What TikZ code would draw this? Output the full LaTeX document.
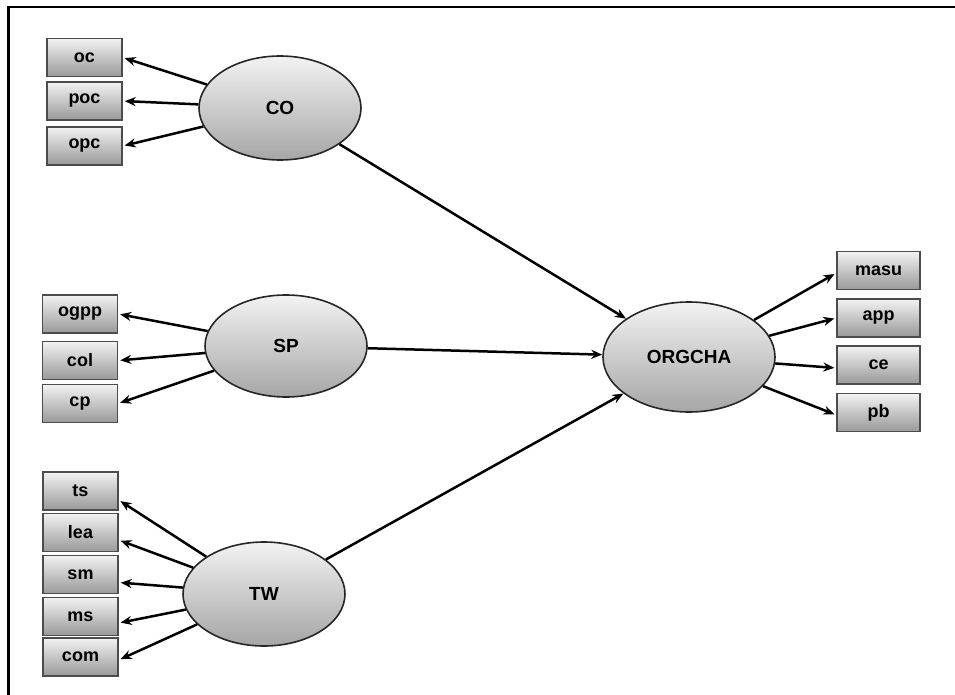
\documentclass[tikz,border=0pt]{standalone}
\usepackage{fontspec}
\setmainfont{Liberation Sans}
\usetikzlibrary{shapes.geometric,arrows.meta}
\tikzset{
  latent/.style={ellipse, draw=black!85, line width=1.6pt, top color=black!5, bottom color=black!35,
    inner sep=0pt, font=\bfseries\fontsize{19}{21}\selectfont},
  indic/.style={rectangle, draw=black!70, line width=1.4pt, top color=black!5, bottom color=black!40,
    minimum width=75pt, minimum height=38pt, inner sep=0pt, font=\bfseries\fontsize{18}{20}\selectfont},
  path/.style={line width=2.5pt, black, -{Stealth[length=11pt,width=9pt]}, shorten >=2pt},
  frame/.style={line width=2.4pt, black}
}
\begin{document}
\begin{tikzpicture}[x=1pt,y=-1pt]
\useasboundingbox (0,0) rectangle (955,695);
% frame
\coordinate (fl) at (8.5,695);
\coordinate (fc) at (8.5,7);
\coordinate (fr) at (955,7);
\draw[frame] (fl) -- (fc) -- (fr);

% latent variables
\node[latent, minimum width=162pt, minimum height=104pt] (CO) at (280,108) {CO};
\node[latent, minimum width=162pt, minimum height=102pt] (SP) at (286,346) {SP};
\node[latent, minimum width=162pt, minimum height=104pt] (TW) at (264,594) {TW};
\node[latent, minimum width=172pt, minimum height=110pt] (ORG) at (689,357) {ORGCHA};

% CO indicators
\node[indic] (oc)  at (84.5,57.5) {oc};
\node[indic] (poc) at (84.5,101) {poc};
\node[indic] (opc) at (84.5,146) {opc};
% SP indicators
\node[indic] (ogpp) at (80,314) {ogpp};
\node[indic] (col)  at (80,360.5) {col};
\node[indic] (cp)   at (80,403.5) {cp};
% TW indicators
\node[indic] (ts)  at (80.5,491) {ts};
\node[indic] (lea) at (80.5,532.5) {lea};
\node[indic] (sm)  at (80.5,574.5) {sm};
\node[indic] (ms)  at (80.5,616.5) {ms};
\node[indic] (com) at (80.5,657) {com};
% ORGCHA indicators
\node[indic, minimum width=83pt] (masu) at (878.5,270.5) {masu};
\node[indic, minimum width=83pt] (app)  at (878.5,318) {app};
\node[indic, minimum width=83pt] (ce)   at (878.5,365) {ce};
\node[indic, minimum width=83pt] (pb)   at (878.5,412.5) {pb};

% measurement paths
\draw[path] (CO) -- (oc.east);
\draw[path] (CO) -- (poc.east);
\draw[path] (CO) -- (opc.east);
\draw[path] (SP) -- (ogpp.east);
\draw[path] (SP) -- (col.east);
\draw[path] (SP) -- (cp.east);
\draw[path] (TW) -- ([yshift=-9pt]ts.east);
\draw[path] (TW) -- ([yshift=-7.5pt]lea.east);
\draw[path] (TW) -- ([yshift=-8pt]sm.east);
\draw[path] (TW) -- ([yshift=-6.5pt]ms.east);
\draw[path] (TW) -- ([yshift=-3pt]com.east);
\draw[path] (ORG) -- ([yshift=-2.5pt]masu.west);
\draw[path] (ORG) -- (app.west);
\draw[path] (ORG) -- ([yshift=-3pt]ce.west);
\draw[path] (ORG) -- ([yshift=-2.5pt]pb.west);

% structural paths
\draw[path, shorten >=0pt] (CO) -- (ORG);
\draw[path, shorten >=0pt] (SP) -- (ORG);
\draw[path, shorten >=0pt] (TW) -- (ORG);
\end{tikzpicture}
\end{document}
